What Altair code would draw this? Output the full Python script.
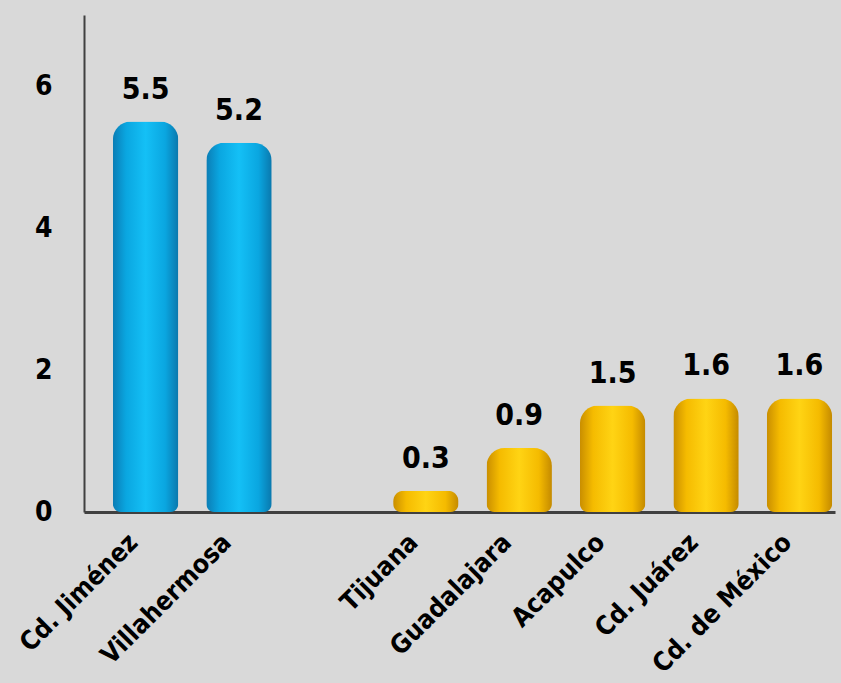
import altair as alt
import pandas as pd

cities = ["Cd. Jiménez", "Villahermosa", "Tijuana", "Guadalajara", "Acapulco", "Cd. Juárez", "Cd. de México"]
values = [5.5, 5.2, 0.3, 0.9, 1.5, 1.6, 1.6]
groups = ["blue", "blue", "gold", "gold", "gold", "gold", "gold"]
axis_order = ["Cd. Jiménez", "Villahermosa", " ", "Tijuana", "Guadalajara", "Acapulco", "Cd. Juárez", "Cd. de México"]
y_ticks = [0, 2, 4, 6]

df = pd.DataFrame({"city": cities, "value": values, "group": groups})

FONT = "DejaVu Sans Condensed, DejaVu Sans"

x_enc = alt.X(
    "city:N",
    sort=axis_order,
    scale=alt.Scale(domain=axis_order, paddingInner=0.3, paddingOuter=0.17, align=0.91),
    axis=alt.Axis(
        title=None, labelAngle=-45, labelAlign="right", labelBaseline="middle",
        labelFont=FONT, labelFontWeight="bold", labelFontSize=26, labelColor="black",
        labelPadding=26, labelOffset=-12, ticks=False, domainColor="#404040", domainWidth=3,
        labelOverlap=False, labelLimit=400,
    ),
)
y_enc = alt.Y(
    "value:Q",
    scale=alt.Scale(domain=[0, 7], nice=False),
    axis=alt.Axis(
        values=y_ticks, title=None, grid=False, ticks=False, labelPadding=32,
        labelFont=FONT, labelFontWeight="bold", labelFontSize=28, labelColor="black",
        domainColor="#404040", domainWidth=2,
    ),
)

blue_grad = alt.Gradient(
    gradient="linear", x1=0, x2=1, y1=0, y2=0,
    stops=[
        alt.GradientStop(color="#0b7db5", offset=0),
        alt.GradientStop(color="#0aa6e0", offset=0.2),
        alt.GradientStop(color="#14c0f6", offset=0.5),
        alt.GradientStop(color="#0aa6e0", offset=0.8),
        alt.GradientStop(color="#0a78ad", offset=1),
    ],
)
gold_grad = alt.Gradient(
    gradient="linear", x1=0, x2=1, y1=0, y2=0,
    stops=[
        alt.GradientStop(color="#c98e00", offset=0),
        alt.GradientStop(color="#f5bb00", offset=0.2),
        alt.GradientStop(color="#ffd414", offset=0.5),
        alt.GradientStop(color="#f5bb00", offset=0.8),
        alt.GradientStop(color="#c48a00", offset=1),
    ],
)

base = alt.Chart(df)
bar_kw = dict(cornerRadiusTopLeft=18, cornerRadiusTopRight=18,
              cornerRadiusBottomLeft=8, cornerRadiusBottomRight=8)

blue_bars = base.transform_filter(alt.datum.group == "blue").mark_bar(
    color=blue_grad, **bar_kw).encode(x=x_enc, y=y_enc)
gold_bars = base.transform_filter(alt.datum.group == "gold").mark_bar(
    color=gold_grad, **bar_kw).encode(x=x_enc, y=y_enc)
labels = base.mark_text(
    dy=-23, fontSize=30, font=FONT, fontWeight="bold", baseline="alphabetic", color="black"
).encode(x=x_enc, y=y_enc, text=alt.Text("value:Q", format=".1f"))

chart = (
    alt.layer(blue_bars, gold_bars, labels)
    .properties(
        width=751, height=497,
        autosize=alt.AutoSizeParams(type="none"),
        padding={"left": 84, "top": 15, "right": 6, "bottom": 171},
        background="#d9d9d9",
    )
    .configure_view(strokeWidth=0)
)

chart.save("out.html", embed_options={"renderer": "svg", "actions": False})
